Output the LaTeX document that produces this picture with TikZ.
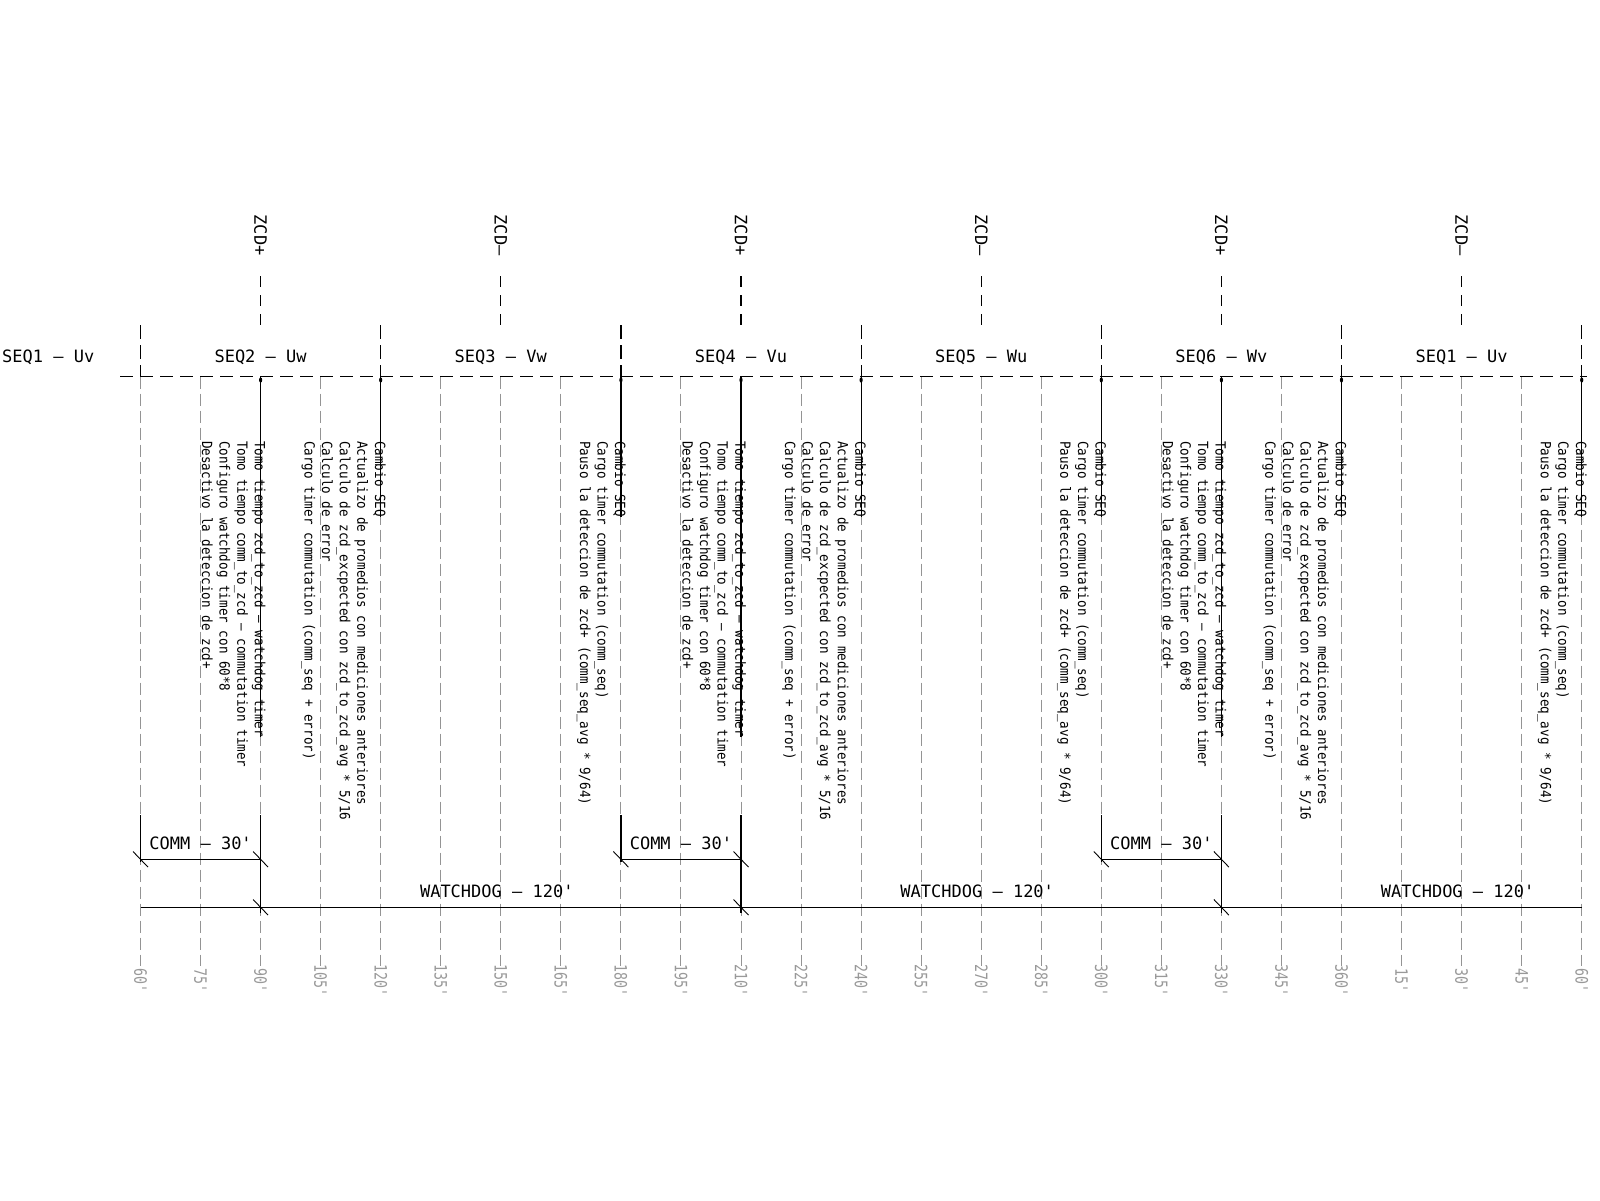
\documentclass[tikz,border=0pt]{standalone}
\usepackage{fontspec}
\newfontfamily\cadfont{DejaVu Sans Mono}
\newfontfamily\notefont[FakeStretch=0.9]{DejaVu Sans Mono}
\newfontfamily\cadnarrow[FakeStretch=0.78]{DejaVu Sans Mono}
\tikzset{
  dimtick/.pic={\draw[black,line width=0.9pt] (-7.5,-7.8) -- (7.5,7.8);}
}
\begin{document}
\begin{tikzpicture}[x=1pt,y=-1pt,
  axisline/.style={black, line width=1.2pt, dash pattern=on 13pt off 7pt},
  bndline/.style={black, line width=1.2pt, dash pattern=on 14pt off 6pt},
  zcdline/.style={black, line width=1.2pt, dash pattern=on 11pt off 8pt},
  gridline/.style={black!42, line width=1pt, dash pattern=on 12pt off 5pt},
  leader/.style={black, line width=1.2pt},
  dimline/.style={black, line width=1.2pt},
  note/.style={font={\notefont\fontsize{14}{16}\selectfont}, rotate=-90, anchor=base west, inner sep=0pt},
  biglabel/.style={font={\cadfont\fontsize{17}{20}\selectfont}, inner sep=0pt},
  anglabel/.style={font={\cadnarrow\fontsize{17}{20}\selectfont}, text=black!40, rotate=-90, inner sep=0pt},
]
\useasboundingbox (0,0) rectangle (1600,1200);
\fill[white] (0,0) rectangle (1600,1200);

% grid lines and angle labels
\foreach \i in {0,...,24}{
  \pgfmathsetmacro\xx{140.5+60.05*\i}
  \pgfmathtruncatemacro\ang{(60+15*\i>360) ? (60+15*\i-360) : (60+15*\i)}
  \coordinate (gt\i) at (\xx,376.5);
  \coordinate (gb\i) at (\xx,966);
  \draw[gridline] (gt\i) -- (gb\i);
  \node[anglabel] (ang\i) at (\xx,982) {\ang\textquotesingle};
}

% main axis
\coordinate (axL) at (120,376.5);
\coordinate (axR) at (1587,376.5);
\draw[axisline] (axL) -- (axR);

% sequence boundaries
\foreach \i in {0,4,...,24}{
  \pgfmathsetmacro\xx{140.5+60.05*\i}
  \coordinate (bt\i) at (\xx,325);
  \draw[bndline] (bt\i) -- (gt\i);
}

% ZCD markers
\foreach \i/\s in {2/+,6/–,10/+,14/–,18/+,22/–}{
  \pgfmathsetmacro\xx{140.5+60.05*\i}
  \node[biglabel, rotate=-90] (zcd\i) at (\xx,235) {ZCD\s};
  \coordinate (zt\i) at (\xx,276);
  \coordinate (zb\i) at (\xx,326);
  \draw[zcdline] (zt\i) -- (zb\i);
}

% sequence labels
\node[biglabel] (seq0) at (48.3,357.5) {SEQ1 – Uv};
\foreach \i/\t in {2/SEQ2 – Uw,6/SEQ3 – Vw,10/SEQ4 – Vu,14/SEQ5 – Wu,18/SEQ6 – Wv,22/SEQ1 – Uv}{
  \pgfmathsetmacro\xx{140.5+60.05*\i}
  \node[biglabel] (seq\i) at (\xx,357) {\t};
}

% ZCD notes
\foreach \i in {2,10,18}{
  \pgfmathsetmacro\xx{140.5+60.05*\i}
  \foreach \k/\t in {0/{Tomo tiempo zcd\_to\_zcd – watchdog timer},
                     1/{Tomo tiempo comm\_to\_zcd – commutation timer},
                     2/{Configuro watchdog timer con 60*8},
                     3/{Desactivo la deteccion de zcd+}}{
    \pgfmathsetmacro\bx{\xx-5.7-17.6*\k}
    \node[note] (tl\i x\k) at (\bx,441) {\t};
  }
  \draw[leader] (gt\i) -- (gt\i |- tl\i x0.east);
  \fill (\xx,380) ellipse (1.6 and 2.6);
}

% sequence change notes (long)
\foreach \i in {4,12,20}{
  \pgfmathsetmacro\xx{140.5+60.05*\i}
  \foreach \k/\t in {0/{Cambio SEQ},
                     1/{Actualizo de promedios con mediciones anteriores},
                     2/{Calculo de zcd\_excpected con zcd\_to\_zcd\_avg * 5/16},
                     3/{Calculo de error},
                     4/{Cargo timer commutation (comm\_seq + error)}}{
    \pgfmathsetmacro\bx{\xx-5.7-17.6*\k}
    \node[note] (tl\i x\k) at (\bx,441) {\t};
  }
  \draw[leader] (gt\i) -- (gt\i |- tl\i x0.east);
  \fill (\xx,380) ellipse (1.6 and 2.6);
}

% sequence change notes (short)
\foreach \i in {8,16,24}{
  \pgfmathsetmacro\xx{140.5+60.05*\i}
  \foreach \k/\t in {0/{Cambio SEQ},
                     1/{Cargo timer commutation (comm\_seq)},
                     2/{Pauso la deteccion de zcd+ (comm\_seq\_avg * 9/64)}}{
    \pgfmathsetmacro\bx{\xx-5.7-17.6*\k}
    \node[note] (tl\i x\k) at (\bx,441) {\t};
  }
  \draw[leader] (gt\i) -- (gt\i |- tl\i x0.east);
  \fill (\xx,380) ellipse (1.6 and 2.6);
}

% COMM dimensions
\foreach \a/\b in {0/2,8/10,16/18}{
  \pgfmathsetmacro\xa{140.5+60.05*\a}
  \pgfmathsetmacro\xb{140.5+60.05*\b}
  \coordinate (ca\a) at (\xa,859.3);
  \coordinate (cb\a) at (\xb,859.3);
  \coordinate (wb\a) at (\xb,907.3);
  \coordinate (ea\a) at (\xa,815);
  \coordinate (eb\a) at (\xb,815);
  \draw[dimline] (ea\a) -- ([yshift=-3pt]ca\a);
  \draw[dimline] (eb\a) -- ([yshift=-6pt]wb\a);
  \draw[dimline] (ca\a) -- (cb\a);
  \pic at (ca\a) {dimtick};
  \pic at (cb\a) {dimtick};
  \pic at (wb\a) {dimtick};
  \node[biglabel] (comm\a) at ({(\xa+\xb)/2},843) {COMM – 30\textquotesingle};
}

% WATCHDOG dimension
\coordinate (wL) at (140.5,907.3);
\coordinate (wR) at (1581.7,907.3);
\draw[dimline] (wL) -- (wR);
\foreach \i in {6,14,22}{
  \pgfmathsetmacro\xx{140.5+60.05*\i-4}
  \node[biglabel] (wd\i) at (\xx,891) {WATCHDOG – 120\textquotesingle};
}
\end{tikzpicture}
\end{document}
